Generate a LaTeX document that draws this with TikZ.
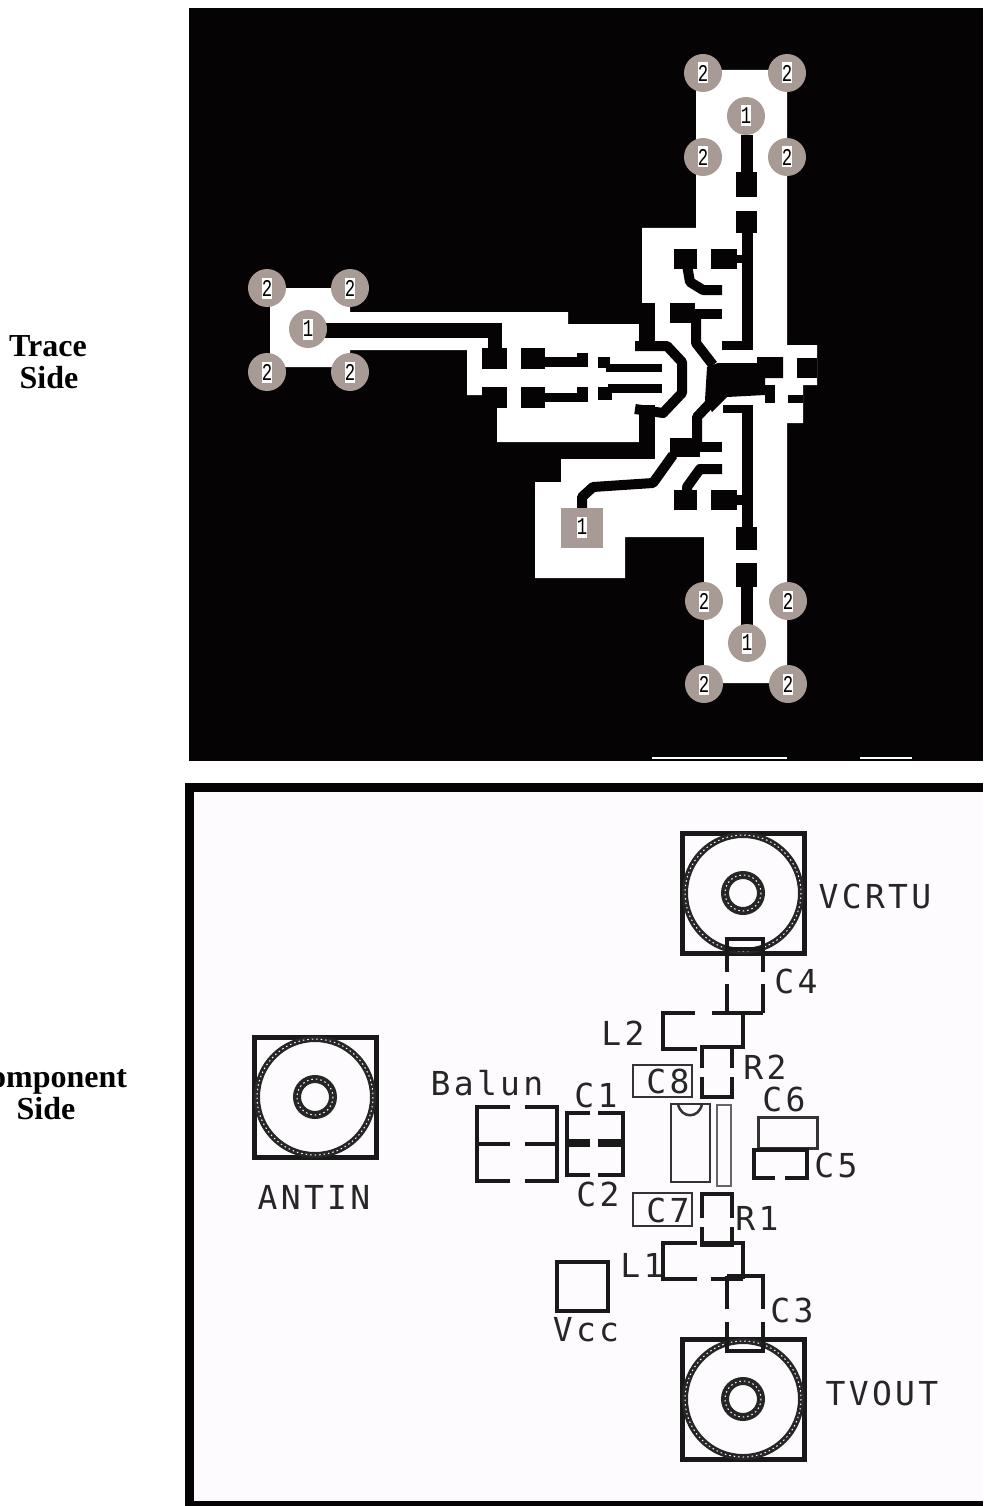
\documentclass[tikz,border=0pt]{standalone}
\usepackage{fontspec}
\setmainfont{Liberation Serif}
\newfontfamily\cadfont[LetterSpace=10]{DejaVu Sans Mono}
\newfontfamily\padfont{Liberation Mono}
\definecolor{board}{HTML}{050304}
\definecolor{padgrey}{HTML}{A89A94}
\definecolor{sheet}{HTML}{FDFBFD}
\tikzset{
    sidetext/.style={font=\bfseries\fontsize{32}{32}\selectfont, anchor=base},
    cadtext/.style={font=\cadfont\fontsize{33}{33}\selectfont, text=black!85},
    padtext/.style={font=\padfont\fontsize{24}{24}\selectfont, fill=white, inner sep=0pt, minimum width=10pt, minimum height=21pt},
    trace/.style={draw=board, line width=10pt, line join=round},
    part/.style={draw=black!90, line width=4pt},
    thinpart/.style={draw=black!80, line width=2.5pt},
    ring/.style={draw=black!85, line width=6pt}
}
\begin{document}
\begin{tikzpicture}[x=1pt, y=-1pt]
    \useasboundingbox (0, 0) rectangle (983, 1506);
    % Side names
    \node[sidetext] (traceName) at (48, 356) {Trace};
    \node[sidetext] (traceSide) at (49, 388) {Side};
    \node[sidetext] (compName) at (47, 1087) {Component};
    \node[sidetext] (compSide) at (46, 1119) {Side};

    % Trace side
    \fill[board] (189, 8) rectangle (983, 761);
    \fill[white] (696, 70) -- (787, 70) -- (787, 345) -- (817, 345) -- (817, 385) -- (803, 385)
        -- (803, 423) -- (787, 423) -- (787, 683) -- (704, 683) -- (704, 537) -- (625, 537)
        -- (625, 578) -- (535, 578) -- (535, 482) -- (561, 482) -- (561, 459) -- (655, 459)
        -- (655, 442) -- (497, 442) -- (497, 395) -- (467, 395) -- (467, 350) -- (350, 350)
        -- (350, 367) -- (270, 367) -- (270, 288) -- (350, 288) -- (350, 312) -- (568, 312)
        -- (568, 324) -- (642, 324) -- (642, 228) -- (696, 228) -- cycle;
    \fill[white] (652, 757) rectangle (787, 759);
    \fill[white] (860, 757) rectangle (912, 759);

    % Left feed
    \fill[board] (325, 323) rectangle (502, 338);
    \fill[board] (488, 338) rectangle (502, 349);
    \fill[board] (482, 348) rectangle (507, 369);
    \fill[board] (482, 387) rectangle (507, 408);
    \fill[board] (521, 348) rectangle (545, 369);
    \fill[board] (521, 387) rectangle (545, 408);
    \fill[board] (545, 357) rectangle (588, 367);
    \fill[board] (577, 353) rectangle (588, 367);
    \fill[board] (545, 393) rectangle (588, 402);
    \fill[board] (577, 387) rectangle (588, 402);
    \fill[board] (598, 357) rectangle (610, 368);
    \fill[board] (606, 364) rectangle (662, 372);
    \fill[board] (598, 387) rectangle (612, 400);
    \fill[board] (608, 384) rectangle (662, 393);

    % Middle
    \fill[board] (639, 303) rectangle (655, 350);
    \fill[board] (639, 405) rectangle (655, 459);
    \draw[trace] (635, 346) -- (667, 346) -- (682, 362) -- (682, 393) -- (663, 413) -- (635, 409);
    \fill[board] (707, 367) -- (718, 363) -- (757, 363) -- (757, 357) -- (783, 357) -- (783, 378)
        -- (765, 378) -- (765, 395) -- (727, 397) -- (712, 412) -- (705, 400) -- cycle;
    \fill[board] (765, 385) rectangle (775, 403);
    \fill[board] (797, 358) rectangle (817, 378);
    \fill[board] (788, 395) rectangle (803, 403);
    \draw[trace] (696, 318) -- (696, 343) -- (713, 365);
    \draw[trace] (697, 442) -- (697, 417) -- (713, 400);
    \fill[board] (670, 303) rectangle (695, 323);
    \fill[board] (695, 309) rectangle (722, 319);
    \fill[board] (670, 438) rectangle (700, 457);
    \fill[board] (700, 442) rectangle (722, 452);
    \draw[trace] (673, 455) -- (653, 483) -- (593, 487) -- (582, 497) -- (582, 510);

    % Upper arm
    \fill[board] (741, 135) rectangle (753, 172);
    \fill[board] (736, 172) rectangle (757, 197);
    \fill[board] (736, 211) rectangle (757, 233);
    \fill[board] (742, 233) rectangle (753, 350);
    \fill[board] (722, 341) rectangle (753, 350);
    \fill[board] (674, 249) rectangle (697, 269);
    \fill[board] (711, 249) rectangle (737, 269);
    \fill[board] (737, 255) rectangle (753, 263);
    \draw[trace] (687, 265) -- (690, 282) -- (703, 290) -- (722, 290);

    % Lower arm
    \fill[board] (723, 405) rectangle (753, 413);
    \fill[board] (742, 405) rectangle (753, 527);
    \fill[board] (736, 527) rectangle (757, 550);
    \fill[board] (736, 563) rectangle (757, 587);
    \fill[board] (741, 587) rectangle (753, 625);
    \fill[board] (674, 490) rectangle (697, 510);
    \fill[board] (711, 490) rectangle (737, 510);
    \fill[board] (737, 495) rectangle (753, 505);
    \draw[trace] (722, 469) -- (700, 469) -- (687, 487) -- (687, 493);

    % Pads
    \foreach \x/\y/\t [count=\i] in {703/73/2, 787/73/2, 746/116/1, 703/157/2, 787/157/2,
            704/601/2, 788/601/2, 747/643/1, 704/684/2, 788/684/2,
            267/288/2, 350/288/2, 308/329/1, 267/372/2, 350/372/2} {
        \fill[padgrey] (\x, \y) circle (19);
        \node[padtext] (pad\i) at (\x, \y) {\scalebox{.72}[1]{\t}};
    }
    \fill[padgrey] (561, 508) rectangle (603, 548);
    \node[padtext] (padVcc) at (582, 527) {\scalebox{.72}[1]{1}};

    % Component side
    \fill[sheet] (194, 792) rectangle (983, 1501);
    \draw[board, line width=9pt] (983, 787.5) -- (189.5, 787.5) -- (189.5, 1505) -- (983, 1505);
    \foreach \x/\y in {743/893, 743/1399, 315/1097} {
        \draw[part, line width=5pt] (\x - 61, \y - 60) rectangle (\x + 61, \y + 60);
        \draw[ring] (\x, \y) circle (58);
        \draw[ring, line width=8pt] (\x, \y) circle (18);
        \draw[white, line width=1pt, dash pattern=on 1.5pt off 3pt] (\x, \y) circle (58);
        \draw[white, line width=1pt, dash pattern=on 1.5pt off 3pt] (\x, \y) circle (18);
    }

    % C4
    \draw[part] (727, 972) -- (727, 939) -- (763, 939) -- (763, 972);
    \draw[part] (727, 984) -- (727, 1013);
    \draw[part] (763, 984) -- (763, 1013);
    \draw[part] (727, 949) -- (763, 949);
    % L2
    \draw[part] (695, 1013) -- (663, 1013) -- (663, 1049) -- (697, 1049);
    \draw[part] (712, 1013) -- (763, 1013);
    \draw[part] (743, 1013) -- (743, 1049);
    % R2
    \draw[part] (702, 1068) -- (702, 1047) -- (743, 1047);
    \draw[part] (732, 1047) -- (732, 1068);
    \draw[part] (702, 1077) -- (702, 1097) -- (732, 1097) -- (732, 1077);
    % C8 and C7
    \draw[thinpart] (633, 1065) rectangle (692, 1097);
    \draw[thinpart] (633, 1193) rectangle (692, 1226);
    % IC
    \draw[thinpart] (671, 1104) rectangle (710, 1182);
    \draw[thinpart] (678, 1104) .. controls (681, 1119) and (699, 1119) .. (702, 1104);
    \draw[draw=black!60, line width=1.5pt] (717, 1105) rectangle (731, 1186);
    % C6 and C5
    \draw[thinpart, line width=3pt] (758, 1117) rectangle (817, 1148);
    \draw[part] (775, 1178) -- (754, 1178) -- (754, 1150) -- (807, 1150) -- (807, 1178) -- (785, 1178);
    % R1
    \draw[part] (702, 1218) -- (702, 1194) -- (732, 1194) -- (732, 1218);
    \draw[part] (702, 1227) -- (702, 1245) -- (732, 1245) -- (732, 1227);
    % L1
    \draw[part] (697, 1243) -- (663, 1243) -- (663, 1279) -- (697, 1279);
    \draw[part] (702, 1243) -- (743, 1243) -- (743, 1279);
    \draw[part] (711, 1279) -- (743, 1279);
    % C3
    \draw[part] (727, 1276) -- (763, 1276) -- (763, 1309);
    \draw[part] (727, 1276) -- (727, 1309);
    \draw[part] (727, 1322) -- (727, 1351) -- (763, 1351) -- (763, 1322);
    % Vcc
    \draw[part] (557, 1262) rectangle (608, 1311);
    % Balun
    \draw[part] (510, 1107) -- (477, 1107) -- (477, 1181) -- (510, 1181);
    \draw[part] (477, 1144) -- (510, 1144);
    \draw[part] (525, 1107) -- (557, 1107) -- (557, 1181) -- (525, 1181);
    \draw[part] (525, 1144) -- (557, 1144);
    % C1 and C2
    \draw[part] (590, 1113) -- (567, 1113) -- (567, 1175) -- (590, 1175);
    \draw[part] (598, 1113) -- (623, 1113) -- (623, 1175) -- (598, 1175);
    \draw[part, line width=8pt] (567, 1143) -- (590, 1143);
    \draw[part, line width=8pt] (598, 1143) -- (623, 1143);

    % Names of the parts
    \node[cadtext] (vcrtu) at (875, 896) {VCRTU};
    \node[cadtext] (tvout) at (882, 1393) {TVOUT};
    \node[cadtext] (antin) at (314, 1197) {ANTIN};
    \node[cadtext] (balun) at (487, 1083) {Balun};
    \node[cadtext] (vcc) at (586, 1330) {Vcc};
    \node[cadtext] (c1) at (596, 1095) {C1};
    \node[cadtext] (c2) at (598, 1194) {C2};
    \node[cadtext] (c3) at (792, 1310) {C3};
    \node[cadtext] (c4) at (796, 981) {C4};
    \node[cadtext] (c5) at (836, 1165) {C5};
    \node[cadtext] (c6) at (784, 1099) {C6};
    \node[cadtext] (c7) at (668, 1210) {C7};
    \node[cadtext] (c8) at (668, 1081) {C8};
    \node[cadtext] (l1) at (642, 1265) {L1};
    \node[cadtext] (l2) at (623, 1033) {L2};
    \node[cadtext] (r1) at (757, 1218) {R1};
    \node[cadtext] (r2) at (765, 1067) {R2};
\end{tikzpicture}
\end{document}
